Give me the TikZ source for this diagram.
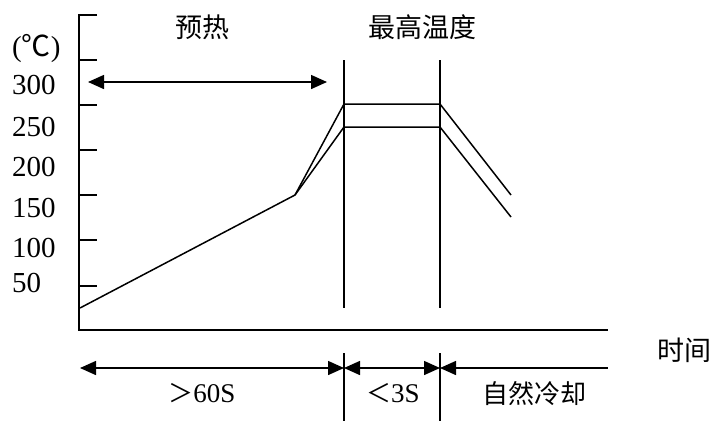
\documentclass[tikz,border=0pt]{standalone}
\usepackage{fontspec}
\setmainfont{Liberation Serif}
\newfontfamily\cjk{Noto Sans CJK SC}
\usetikzlibrary{arrows.meta}
\tikzset{
  ln/.style={line width=1.5pt, line cap=butt},
  axis/.style={line width=2pt},
  dbl/.style={ln, {Triangle[length=16pt,width=14pt]}-{Triangle[length=16pt,width=14pt]}},
  lft/.style={ln, {Triangle[length=16pt,width=14pt]}-},
  ylab/.style={anchor=base west, inner sep=0pt, font=\fontsize{29}{29}\selectfont},
  toplab/.style={inner sep=0pt, font=\cjk\fontsize{27}{27}\selectfont},
  botlab/.style={inner sep=0pt, font=\fontsize{27}{27}\selectfont},
}
\begin{document}
\begin{tikzpicture}[x=1pt,y=-1pt]
\useasboundingbox (0,0) rectangle (711,421);
% axes
\coordinate (ytop) at (97,15);
\coordinate (o0) at (79,15);
\coordinate (orig) at (79,330);
\coordinate (xend) at (608,330);
\draw[axis] (ytop) -- (o0) -- (orig) -- (xend);
% ticks
\foreach \yy [count=\i] in {60,105,150,195,240,286}{
  \coordinate (ta\i) at (79,\yy);
  \coordinate (tb\i) at (97,\yy);
  \draw[ln] (ta\i) -- (tb\i);
}
% y labels
\node[ylab] (unit) at (12,56) {(\cjk ℃\rm)};
\node[ylab] (l300) at (12,94) {300};
\node[ylab] (l250) at (12,136) {250};
\node[ylab] (l200) at (12,176) {200};
\node[ylab] (l150) at (12,217) {150};
\node[ylab] (l100) at (12,257) {100};
\node[ylab] (l50) at (12,292) {50};
% top labels
\node[toplab] (pre) at (202,27) {预热};
\node[toplab] (peak) at (422,27) {最高温度};
% preheat arrow
\coordinate (pa) at (88,82);
\coordinate (pb) at (327,82);
\draw[dbl] (pa) -- (pb);
% vertical lines
\coordinate (v1t) at (344,60); \coordinate (v1b) at (344,308);
\coordinate (v2t) at (440,60); \coordinate (v2b) at (440,308);
\draw[ln] (v1t) -- (v1b);
\draw[ln] (v2t) -- (v2b);
% profile
\coordinate (c0) at (80,308);
\coordinate (c1) at (295,195);
\coordinate (h1) at (344,104);
\coordinate (h2) at (440,104);
\coordinate (e1) at (511,195);
\coordinate (g1) at (344,127);
\coordinate (g2) at (440,127);
\coordinate (e2) at (511,217);
\draw[ln, line join=round] (c0) -- (c1) -- (h1) -- (h2) -- (e1);
\draw[ln, line join=round] (c1) -- (g1) -- (g2) -- (e2);
% bottom
\coordinate (b0) at (80,368);
\coordinate (b1) at (344,368);
\coordinate (b2) at (440,368);
\coordinate (b3) at (608,368);
\draw[dbl] (b0) -- (b1);
\draw[dbl] (b1) -- (b2);
\draw[lft] (b2) -- (b3);
\coordinate (d1t) at (344,353); \coordinate (d1b) at (344,421);
\coordinate (d2t) at (440,353); \coordinate (d2b) at (440,421);
\draw[ln] (d1t) -- (d1b);
\draw[ln] (d2t) -- (d2b);
\node[botlab] (t60) at (202,393) {{\cjk\fontsize{25}{25}\selectfont ＞}60S};
\node[botlab] (t3) at (393,393) {{\cjk\fontsize{25}{25}\selectfont ＜}3S};
\node[botlab, font=\cjk\fontsize{26}{26}\selectfont] (cool) at (534,394) {自然冷却};
\node[toplab] (time) at (684,350) {时间};
\end{tikzpicture}
\end{document}
